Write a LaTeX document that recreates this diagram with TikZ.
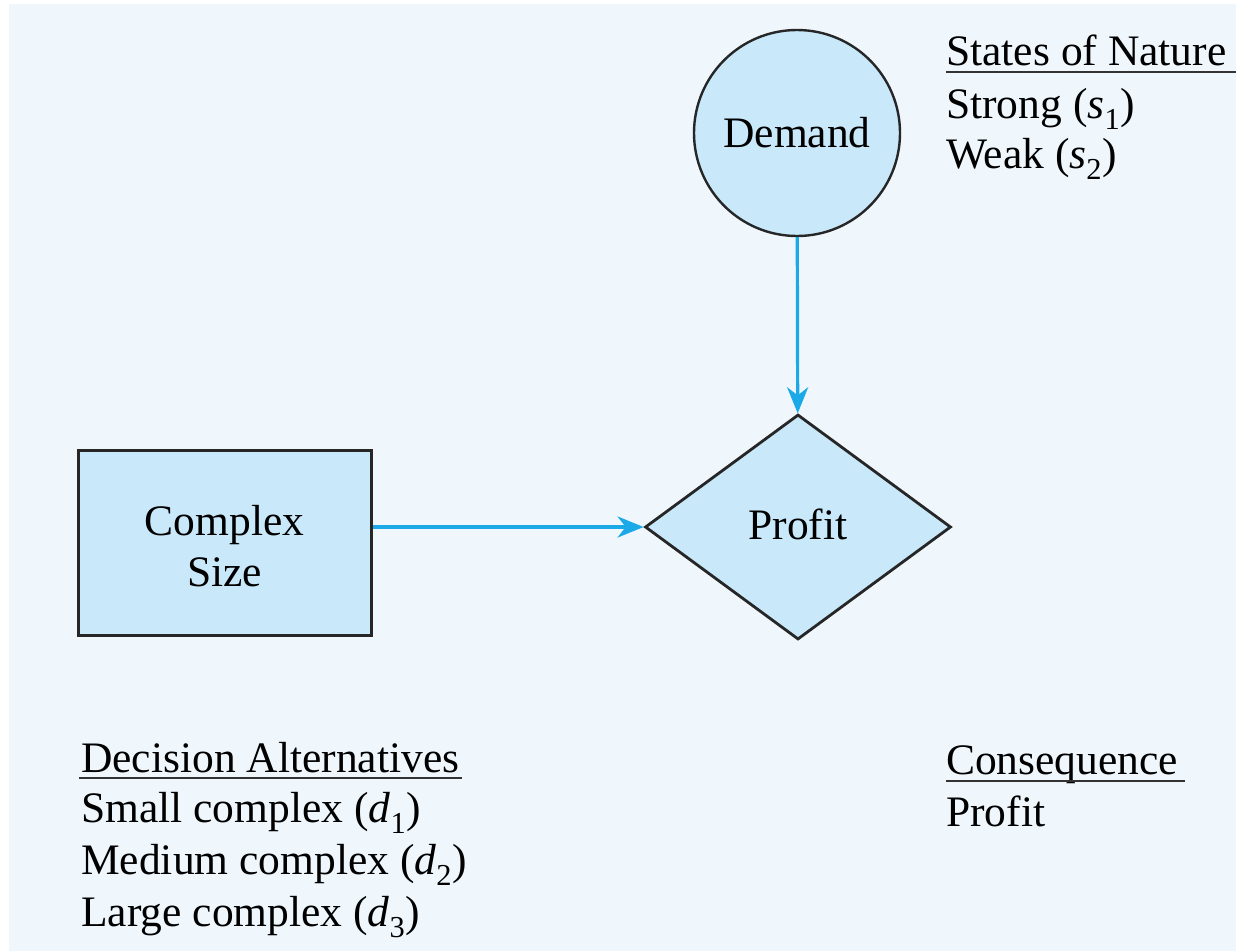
\documentclass[tikz,border=0pt]{standalone}
\usepackage{fontspec}
\setmainfont{Liberation Serif}
\usetikzlibrary{shapes.geometric,arrows.meta}
\definecolor{bgblue}{HTML}{EFF7FD}
\definecolor{fillblue}{HTML}{C9E9FA}
\definecolor{arrowblue}{HTML}{1BA9E8}
\begin{document}
\begin{tikzpicture}[x=1pt,y=-1pt,
  every node/.style={font=\fontsize{43.5}{51}\selectfont},
  shapebox/.style={draw=black!85, fill=fillblue, inner sep=0pt, align=center},
  connector/.style={draw=arrowblue, line width=3.2pt, -{Stealth[length=26pt,width=21pt,inset=8pt]}},
  label/.style={anchor=base west, inner sep=0pt},
  rulestyle/.style={line width=2.2pt, black!80}]
\useasboundingbox (0,0) rectangle (1236,951);
\fill[bgblue] (9,4) rectangle (1236,951);
\node[shapebox, circle, minimum size=206pt, line width=2.4pt] (demand) at (797,133) {Demand};
\node[shapebox, diamond, minimum width=306pt, minimum height=225pt, aspect=1.36, line width=2.8pt] (profit) at (798,527) {\raisebox{5pt}{Profit}};
\node[shapebox, rectangle, minimum width=293pt, minimum height=185pt, line width=3pt] (complex) at (224.5,542.5) {};
\node[inner sep=0pt, align=center] (complextext) at ([yshift=-4pt]complex.center) {Complex\\Size};
\draw[connector] (demand) -- (profit);
\draw[connector] (complex.east |- profit.west) -- (profit.west);
% States of nature
\node[label] (sonh) at (946,65) {States of Nature};
\draw[rulestyle] (946,72) -- (1236,72);
\node[label] (s1) at (946,118) {Strong (\textit{s}\textsubscript{1})};
\node[label] (s2) at (946,168) {Weak (\textit{s}\textsubscript{2})};
% Decision alternatives
\node[label] (dah) at (81,772) {Decision Alternatives};
\draw[rulestyle] (79,778) -- (462,778);
\node[label] (d1) at (81,822) {Small complex (\textit{d}\textsubscript{1})};
\node[label] (d2) at (81,874) {Medium complex (\textit{d}\textsubscript{2})};
\node[label] (d3) at (81,926) {Large complex (\textit{d}\textsubscript{3})};
% Consequence
\node[label] (ch) at (946,774) {Consequence};
\draw[rulestyle] (946,781) -- (1185,781);
\node[label] (c1) at (946,826) {Profit};
\end{tikzpicture}
\end{document}
